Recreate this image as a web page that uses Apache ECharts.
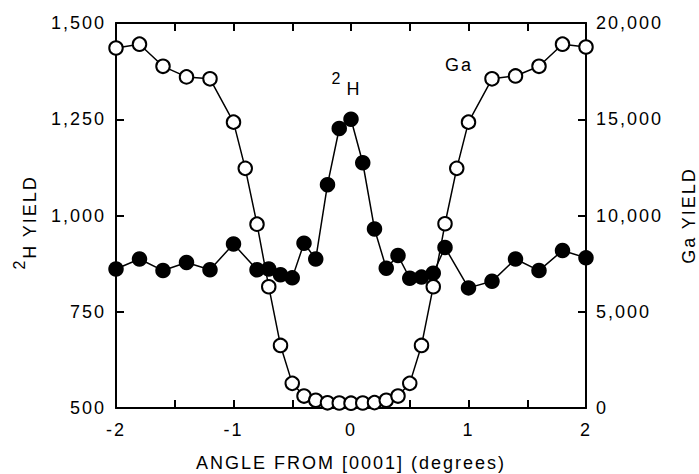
<!DOCTYPE html>
<html>
<head>
<meta charset="utf-8">
<script src="https://cdn.jsdelivr.net/npm/echarts@6/dist/echarts.min.js"></script>
<style>
  html, body { margin: 0; padding: 0; background: #fff; }
  #chart { width: 699px; height: 474px; }
  /* the original type is set loose, so widen the letters a little */
  #chart svg text { letter-spacing: 2px; }
</style>
</head>
<body>
<div id="chart"></div>
<script>
  // Ga yield (open circles, right axis)
  const angleGa = [-2, -1.8, -1.6, -1.4, -1.2, -1.0, -0.9, -0.8, -0.7, -0.6, -0.5, -0.4, -0.3, -0.2, -0.1,
    0, 0.1, 0.2, 0.3, 0.4, 0.5, 0.6, 0.7, 0.8, 0.9, 1.0, 1.2, 1.4, 1.6, 1.8, 2.0]
  const gaYield = [18700, 18900, 17750, 17200, 17100, 14850, 12450, 9550, 6300, 3250, 1280, 620, 400, 270, 260,
    250, 260, 280, 400, 620, 1280, 3250, 6300, 9570, 12450, 14850, 17100, 17250, 17750, 18900, 18750]

  // 2H yield (filled circles, left axis)
  const angleH = [-2, -1.8, -1.6, -1.4, -1.2, -1.0, -0.8, -0.7, -0.6, -0.5, -0.4, -0.3, -0.2, -0.1,
    0, 0.1, 0.2, 0.3, 0.4, 0.5, 0.6, 0.7, 0.8, 1.0, 1.2, 1.4, 1.6, 1.8, 2.0]
  const hYield = [861, 887, 857, 878, 859, 926, 859, 861, 846, 838, 928, 887, 1080, 1226,
    1250, 1137, 965, 863, 896, 837, 840, 850, 917, 812, 829, 887, 857, 909, 890]

  const xTicks = { min: -2, max: 2, interval: 0.5 }
  const hTicks = { min: 500, max: 1500, interval: 250 }
  const gaTicks = { min: 0, max: 20000, interval: 5000 }

  const font = 'Liberation Sans, Arial, Helvetica, sans-serif'
  const fs = 18
  const black = '#000'

  function axisBase() {
    return {
      axisLine: { show: true, onZero: false, lineStyle: { color: black, width: 2 } },
      axisTick: { show: true, inside: true, length: 8, lineStyle: { color: black, width: 2 } },
      splitLine: { show: false },
      axisLabel: { color: black, fontSize: fs, fontFamily: font },
      nameTextStyle: { color: black, fontSize: fs, fontFamily: font }
    }
  }

  function label(text, x, y, size, rotate) {
    return {
      type: 'text', x: x, y: y, rotation: rotate ? Math.PI / 2 : 0,
      style: { text: text, fontSize: size, fontFamily: font, fill: black, textAlign: 'center', textVerticalAlign: 'middle' }
    }
  }

  const chart = echarts.init(document.getElementById('chart'), null, { renderer: 'svg' })

  chart.setOption({
    animation: false,
    backgroundColor: '#fff',
    textStyle: { fontFamily: font, color: black },
    grid: { left: 116, right: 113, top: 23, bottom: 66, containLabel: false, outerBoundsMode: 'none' },
    xAxis: [
      Object.assign(axisBase(), {
        type: 'value',
        position: 'bottom',
        min: xTicks.min, max: xTicks.max, interval: xTicks.interval,
        name: 'ANGLE FROM [0001] (degrees)',
        nameLocation: 'middle',
        nameGap: 46,
        axisLabel: {
          color: black, fontSize: fs, fontFamily: font, margin: 13,
          formatter: v => Number.isInteger(v) ? String(v) : ''
        }
      }),
      Object.assign(axisBase(), {
        type: 'value',
        position: 'top',
        min: xTicks.min, max: xTicks.max, interval: xTicks.interval,
        axisLabel: { show: false }
      })
    ],
    yAxis: [
      Object.assign(axisBase(), {
        type: 'value',
        position: 'left',
        min: hTicks.min, max: hTicks.max, interval: hTicks.interval,
        axisLabel: {
          color: black, fontSize: fs, fontFamily: font, margin: 10,
          formatter: v => v.toLocaleString('en-US')
        }
      }),
      Object.assign(axisBase(), {
        type: 'value',
        position: 'right',
        min: gaTicks.min, max: gaTicks.max, interval: gaTicks.interval,
        name: 'Ga YIELD',
        nameLocation: 'middle',
        nameRotate: 90,
        nameGap: 94,
        axisLabel: {
          color: black, fontSize: fs, fontFamily: font, margin: 10,
          formatter: v => v.toLocaleString('en-US')
        }
      })
    ],
    graphic: [
      // left axis title, 2H YIELD, written as two pieces so the 2 sits raised
      label('H YIELD', 30, 217, fs, true),
      label('2', 19, 264, 16, true),
      // curve labels inside the plot
      label('2', 337, 78, 16, false),
      label('H', 354, 89, fs, false),
      label('Ga', 459, 65, fs, false)
    ],
    series: [
      {
        name: '2H',
        type: 'line',
        xAxisIndex: 0,
        yAxisIndex: 0,
        data: angleH.map((a, i) => [a, hYield[i]]),
        symbol: 'circle',
        symbolSize: 15.5,
        lineStyle: { color: black, width: 1.5 },
        itemStyle: { color: black, borderWidth: 0 }
      },
      {
        name: 'Ga',
        type: 'line',
        xAxisIndex: 0,
        yAxisIndex: 1,
        data: angleGa.map((a, i) => [a, gaYield[i]]),
        symbol: 'circle',
        symbolSize: 13.5,
        showAllSymbol: true,
        lineStyle: { color: black, width: 1.5 },
        itemStyle: { color: '#fff', borderColor: black, borderWidth: 2 }
      }
    ]
  })
</script>
</body>
</html>
